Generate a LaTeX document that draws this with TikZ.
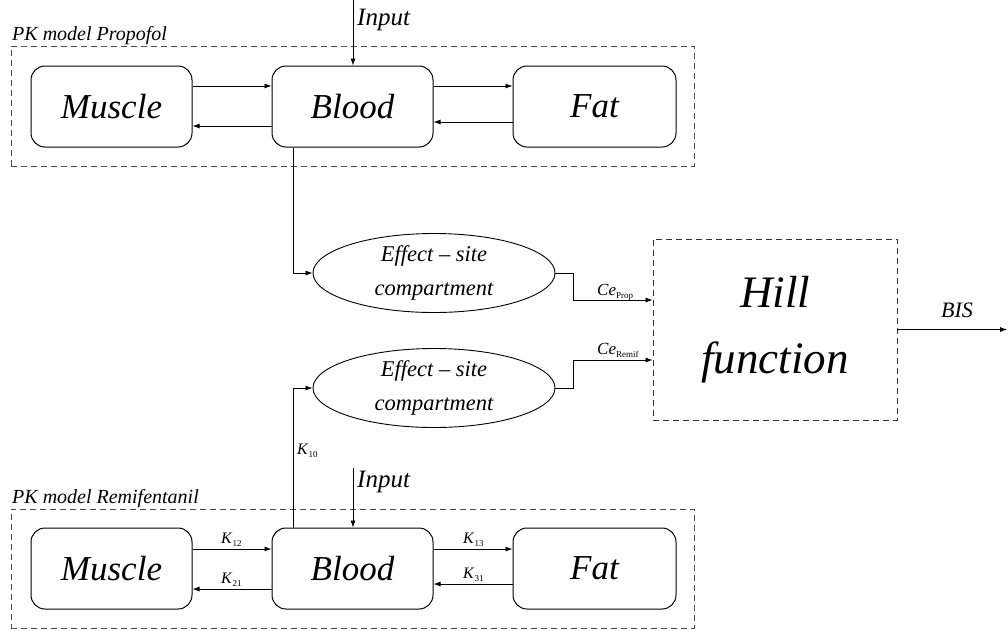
\documentclass[tikz,border=0pt]{standalone}
\usepackage{fontspec}
\setmainfont{Liberation Serif}
\usetikzlibrary{arrows.meta,shapes.geometric}
\begin{document}
\begin{tikzpicture}[x=1pt,y=-1pt]
\tikzset{
 comp/.style={draw, line width=1pt, rounded corners=14pt, minimum width=161pt, minimum height=81pt, inner sep=0pt, font=\fontsize{35}{40}\selectfont\itshape},
 grp/.style={draw=black!70, dash pattern=on 6pt off 4pt, line width=0.9pt, inner sep=0pt},
 arr/.style={-{Latex[length=7pt,width=5pt]}, line width=0.8pt},
 eff/.style={ellipse, draw, line width=0.9pt, minimum width=242pt, minimum height=79pt, inner sep=0pt, align=center, font=\fontsize{22.5}{34}\selectfont\itshape},
 lbl/.style={font=\fontsize{20}{20}\selectfont\itshape, anchor=base west, inner sep=0pt},
 inlbl/.style={font=\fontsize{25}{25}\selectfont\itshape, anchor=base west, inner sep=0pt},
 klbl/.style={font=\fontsize{16}{16}\selectfont, anchor=base west, inner sep=0pt},
}
\newcommand{\kk}[1]{\textit{K}\raisebox{-3pt}{\fontsize{9}{9}\selectfont #1}}
\useasboundingbox (0,0) rectangle (1008,630);

% group boxes
\node[grp, minimum width=683pt, minimum height=120pt] (pk1) at (352.5,106) {};
\node[grp, minimum width=683pt, minimum height=119pt] (pk2) at (352.5,568.5) {};
\node[lbl] (pk1l) at (12,40) {PK model Propofol};
\node[lbl] (pk2l) at (12,503) {PK model Remifentanil};

% compartments top
\node[comp] (mus1) at (111.5,106.5) {Muscle};
\node[comp] (blood1) at (352.5,106.5) {Blood};
\node[comp, minimum width=163pt] (fat1) at (594.5,106.5) {Fat};
% compartments bottom
\node[comp] (mus2) at (111.5,568.5) {Muscle};
\node[comp] (blood2) at (352.5,568.5) {Blood};
\node[comp, minimum width=163pt] (fat2) at (594.5,568.5) {Fat};

% effect sites
\node[eff] (eff1) at (434,273) {Effect -- site\\compartment};
\node[eff] (eff2) at (434,388) {Effect -- site\\compartment};

% Hill
\node[grp, draw=black!80, minimum width=244pt, minimum height=181pt, align=center, font=\fontsize{45}{66}\selectfont\itshape] (hill) at (775,329.5) {Hill\\function};

% inputs
\coordinate (in1) at (353,0);
\coordinate (in2) at (353,468);
\node[inlbl] (in1l) at (357,25) {Input};
\node[inlbl] (in2l) at (357,487) {Input};
\draw[arr] (in1) -- (in1 |- blood1.north);
\draw[arr] (in2) -- (in2 |- blood2.north);

% top exchanges
\draw[arr] ([yshift=20.5pt]mus1.east) -- ([yshift=20.5pt]blood1.west);
\draw[arr] ([yshift=-19.5pt]blood1.west) -- ([yshift=-19.5pt]mus1.east);
\draw[arr] ([yshift=20.5pt]blood1.east) -- ([yshift=20.5pt]fat1.west);
\draw[arr] ([yshift=-15.5pt]fat1.west) -- ([yshift=-15.5pt]blood1.east);

% bottom exchanges
\draw[arr] ([yshift=19.5pt]mus2.east) -- ([yshift=19.5pt]blood2.west);
\draw[arr] ([yshift=-20.5pt]blood2.west) -- ([yshift=-20.5pt]mus2.east);
\draw[arr] ([yshift=19.5pt]blood2.east) -- ([yshift=19.5pt]fat2.west);
\draw[arr] ([yshift=-15.5pt]fat2.west) -- ([yshift=-15.5pt]blood2.east);
\node[klbl] (k12) at (221,543) {\kk{12}};
\node[klbl] (k21) at (221,583) {\kk{21}};
\node[klbl] (k13) at (463,543) {\kk{13}};
\node[klbl] (k31) at (463,578) {\kk{31}};

% blood to effect sites
\draw[arr] ([xshift=-59.5pt]blood1.south) |- (eff1.west);
\draw[arr] ([xshift=-59.5pt]blood2.north) |- (eff2.west);
\node[klbl] (k10) at (297,454) {\kk{10}};

% effect sites to Hill
\draw[arr] (eff1.east) -- ++(18,0) |- ([yshift=29.5pt]hill.west);
\draw[arr] (eff2.east) -- ++(18,0) |- ([yshift=-30.5pt]hill.west);
\node[anchor=base west, inner sep=0pt, font=\fontsize{17}{17}\selectfont] (cep) at (597,295) {\textit{Ce}\raisebox{-3pt}{\fontsize{9}{9}\selectfont Prop}};
\node[anchor=base west, inner sep=0pt, font=\fontsize{17}{17}\selectfont] (cer) at (597,354) {\textit{Ce}\raisebox{-3pt}{\fontsize{9}{9}\selectfont Remif}};

% output
\coordinate (out) at (1007,329.5);
\draw[arr] (hill.east) -- (out);
\node[font=\fontsize{22}{22}\selectfont\itshape, anchor=base west, inner sep=0pt] (bis) at (941,317) {BIS};
\end{tikzpicture}
\end{document}
